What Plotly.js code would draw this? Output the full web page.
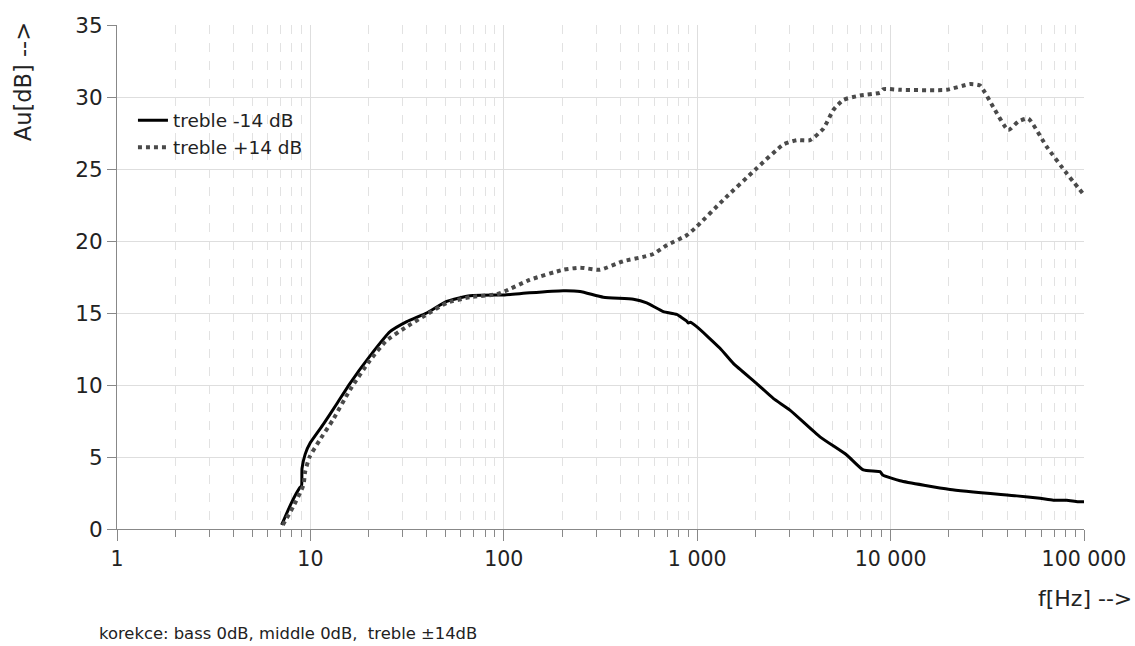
<!DOCTYPE html>
<html>
<head>
<meta charset="utf-8">
<script src="https://cdn.plot.ly/plotly-3.0.1.min.js"></script>
<style>html,body{margin:0;padding:0;background:#fff;}#chart{width:1135px;height:646px;}</style>
</head>
<body>
<div id="chart"></div>
<script>
// treble -14 dB
const freqMinus = [7.1, 8.0, 8.8, 9.0, 9.05, 9.4, 10.0, 11.7, 13.7, 16.0, 20.3, 25.8, 31.5, 39.9, 50.7, 66.9, 91.9, 101, 136, 203, 248, 327, 468, 548, 668, 783, 880, 900, 920, 994, 1312, 1537, 2032, 2473, 3017, 4315, 5930, 7225, 8815, 9100, 11190, 20280, 44870, 59240, 69350, 81300, 92700, 100000];
const gainMinus = [0.28, 1.85, 2.85, 3.0, 4.2, 5.2, 6.0, 7.3, 8.7, 10.1, 12.0, 13.7, 14.4, 15.0, 15.8, 16.2, 16.25, 16.25, 16.4, 16.55, 16.5, 16.1, 15.95, 15.7, 15.1, 14.9, 14.45, 14.3, 14.35, 14.05, 12.55, 11.5, 10.1, 9.07, 8.26, 6.4, 5.14, 4.1, 3.98, 3.75, 3.35, 2.75, 2.3, 2.13, 2.0, 2.0, 1.9, 1.9];
// treble +14 dB
const freqPlus = [7.2, 8.15, 9.2, 9.4, 9.9, 11.2, 13.1, 16, 20.3, 24.8, 31.5, 39.9, 50.7, 67, 92, 101, 136, 203, 248, 314, 415, 526, 593, 695, 883, 994, 1364, 2032, 2787, 3268, 3830, 4487, 5058, 5693, 6948, 8815, 9200, 11190, 19500, 25760, 28970, 33950, 40600, 45750, 51530, 64120, 81300, 100000];
const gainPlus = [0.28, 1.55, 3.05, 4.0, 5.0, 6.2, 7.6, 9.65, 11.7, 13.1, 14.05, 14.9, 15.7, 16.1, 16.3, 16.5, 17.3, 18.0, 18.15, 18.0, 18.6, 18.9, 19.1, 19.7, 20.4, 21.0, 22.85, 25.05, 26.7, 27.0, 27.0, 27.8, 29.1, 29.8, 30.1, 30.3, 30.55, 30.5, 30.5, 30.9, 30.8, 29.3, 27.7, 28.3, 28.5, 26.55, 24.7, 23.2];

const seriesNames = ["treble -14 dB", "treble +14 dB"];
const xTickVals = [1, 10, 100, 1000, 10000, 100000];
const xTickText = ["1", "10", "100", "1 000", "10 000", "100 000"];
const xMinorVals = [2,3,4,5,6,7,8,9,20,30,40,50,60,70,80,90,200,300,400,500,600,700,800,900,2000,3000,4000,5000,6000,7000,8000,9000,20000,30000,40000,50000,60000,70000,80000,90000];
const yTickVals = [0, 5, 10, 15, 20, 25, 30, 35];
const yTitle = "Au[dB] -->";
const xTitle = "f[Hz] -->";
const note = "korekce: bass 0dB, middle 0dB,\u00a0 treble \u00b114dB";

const FONT = "DejaVu Sans, Liberation Sans, Arial, sans-serif";

const traces = [
  {x: freqMinus, y: gainMinus, name: seriesNames[0], type: "scatter", mode: "lines",
   line: {color: "#000000", width: 3, shape: "spline", smoothing: 0.5}},
  {x: freqPlus, y: gainPlus, name: seriesNames[1], type: "scatter", mode: "lines",
   line: {color: "#4a4a4a", width: 4, dash: "dot", shape: "spline", smoothing: 0.5}}
];

const layout = {
  width: 1135, height: 646,
  margin: {l: 117, r: 51, t: 25, b: 117},
  paper_bgcolor: "#ffffff", plot_bgcolor: "#ffffff",
  font: {family: FONT, color: "#222222", size: 20},
  showlegend: true,
  legend: {x: 0.0165, y: 0.848, xanchor: "left", yanchor: "top",
    bgcolor: "rgba(255,255,255,0)", font: {family: FONT, size: 18.5, color: "#222"}, itemwidth: 30},
  xaxis: {
    type: "log", range: [0, 5],
    tickmode: "array", tickvals: xTickVals, ticktext: xTickText,
    ticks: "outside", ticklen: 11, tickcolor: "#888", tickwidth: 1,
    showgrid: true, gridcolor: "#dedede", gridwidth: 1,
    showline: true, linecolor: "#888", linewidth: 1,
    zeroline: false,
    tickfont: {family: FONT, size: 20.5, color: "#222"},
    minor: {tickmode: "array", tickvals: xMinorVals, ticks: "outside", ticklen: 7, tickcolor: "#888",
            showgrid: true, gridcolor: "#e2e2e2", griddash: "dash", gridwidth: 1}
  },
  yaxis: {
    range: [0, 35], tickmode: "array", tickvals: yTickVals,
    ticks: "outside", ticklen: 9, tickcolor: "#888",
    showgrid: true, gridcolor: "#dedede", gridwidth: 1,
    showline: true, linecolor: "#888", linewidth: 1,
    zeroline: false,
    tickfont: {family: FONT, size: 21.5, color: "#222"}
  },
  annotations: [
    {text: yTitle, xref: "paper", yref: "paper", x: -0.097, y: 0.887, textangle: -90,
     showarrow: false, xanchor: "center", yanchor: "middle", font: {family: FONT, size: 22.5, color: "#222"}},
    {text: xTitle, xref: "paper", yref: "paper", x: 1.052, y: -0.137,
     showarrow: false, xanchor: "right", yanchor: "middle", font: {family: FONT, size: 22, color: "#222"}},
    {text: note, xref: "paper", yref: "paper", x: -0.0207, y: -0.208,
     showarrow: false, xanchor: "left", yanchor: "middle", font: {family: FONT, size: 16.4, color: "#222"}}
  ]
};

Plotly.newPlot("chart", traces, layout, {displayModeBar: false, staticPlot: true});
</script>
</body>
</html>
